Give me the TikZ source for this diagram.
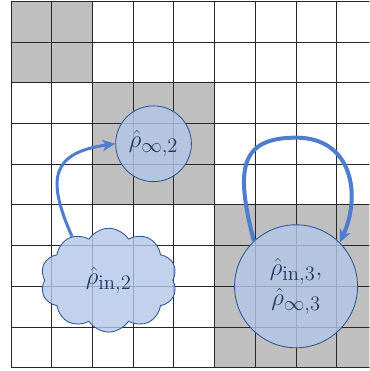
\documentclass[tikz,border=0pt]{standalone}
\usepackage{amsmath, amssymb}
\usepackage{tikz}
\usetikzlibrary{calc,shapes,arrows.meta}
\definecolor{cellgray}{HTML}{BFBFBF}
\definecolor{rhofill}{HTML}{B4C7E7}
\definecolor{rhoedge}{HTML}{2F5597}
\definecolor{rhotext}{HTML}{203864}
\definecolor{arrowblue}{HTML}{4F7DCE}
\tikzset{
    rhostate/.style={draw=rhoedge, line width=0.6pt, fill=rhofill, fill opacity=0.8,
        text opacity=1, text=rhotext, inner sep=0pt,
        font=\fontsize{19}{21}\selectfont},
    flowarrow/.style={draw=arrowblue, line width=2.1pt,
        -{Stealth[length=9pt,width=8pt,inset=2.5pt]}},
}

\begin{document}
\begin{tikzpicture}
        \useasboundingbox (-0.27,-0.08) rectangle (8.80,9.03);
        \clip (-0.27,-0.08) rectangle (8.80,9.03);
        \fill[cellgray] (0,7) rectangle (2,9);
        \fill[cellgray] (2,4) rectangle (5,7);
        \fill[cellgray] (5,0) rectangle (9,4);
        \draw[black!85, line width=0.6pt] (0,0) grid (9,9);

        \node[rhostate, circle, minimum size=1.86cm] (rhoinf2) at (3.5,5.5)
            {$\hat{\rho}_{\infty,2}$};
        \node[rhostate, cloud, cloud puffs=10, cloud puff arc=115, cloud ignores aspect,
            minimum width=3.35cm, minimum height=2.55cm] (rhoin2) at (2.4,2.15)
            {$\hat{\rho}_{\mathrm{in},2}$};
        \node[rhostate, circle, minimum size=3.02cm, align=center] (rho3) at (7,2)
            {$\hat{\rho}_{\mathrm{in},3},$\\$\hat{\rho}_{\infty,3}$};

        \coordinate (looptop) at (7,5.65);
        \draw[flowarrow] (rhoin2.130) to[out=114, in=188, looseness=1.6] (rhoinf2.west);
        \draw[flowarrow, line width=2.8pt] (rho3.133) .. controls +(-0.45,1.75) and +(-1.4,0) .. (looptop)
            .. controls +(1.4,0) and +(0.52,1.14) .. (rho3.45);
    \end{tikzpicture}
\end{document}
